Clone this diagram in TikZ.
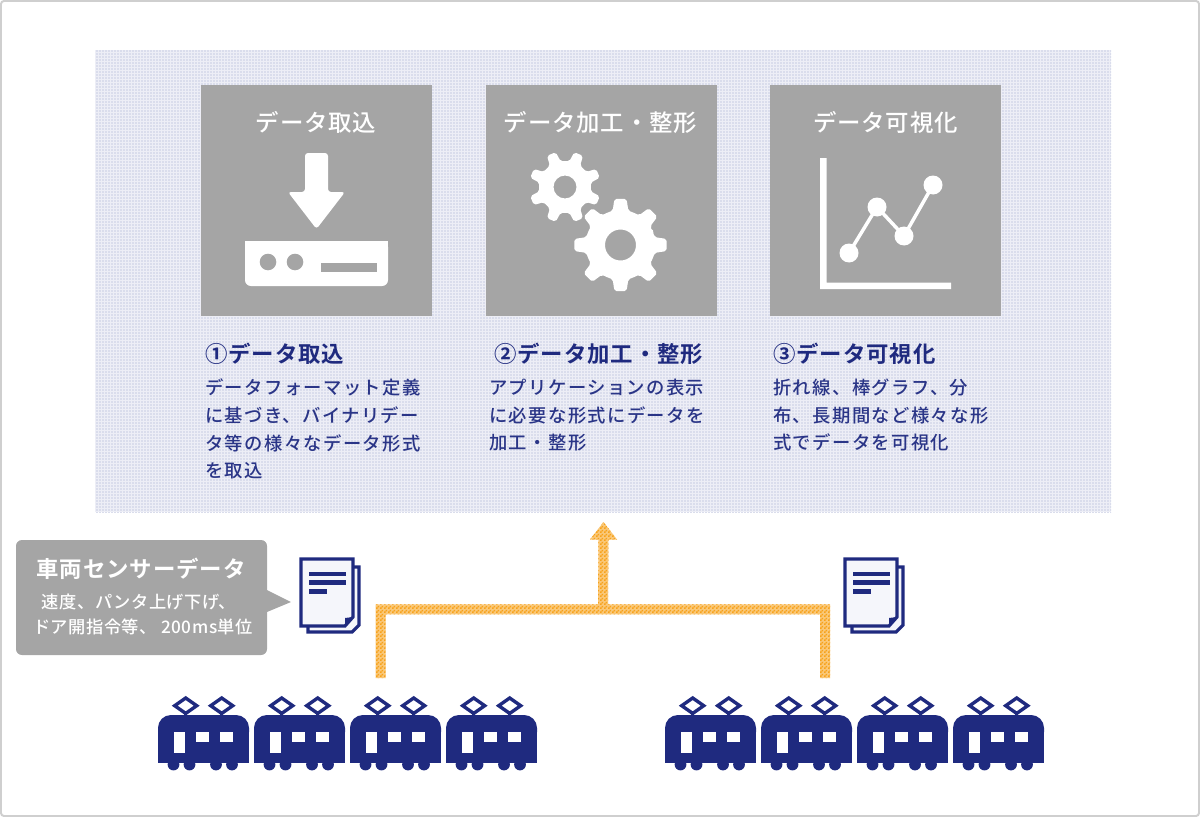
\documentclass[tikz,border=0pt]{standalone}
\usepackage{fontspec}
\setmainfont{Noto Sans CJK JP Medium}
\newfontfamily\bodyf[LetterSpace=7.5]{Noto Sans CJK JP Medium}
\newfontfamily\boxf[LetterSpace=3.5]{Noto Sans CJK JP Medium}
\newfontfamily\subf[LetterSpace=3]{Noto Sans CJK JP Medium}
\newfontfamily\headf[LetterSpace=4]{Noto Sans CJK JP Bold}
\usetikzlibrary{patterns,calc}
\definecolor{navy}{HTML}{1F2A7F}
\definecolor{bodyblue}{HTML}{2A3587}
\definecolor{boxgrey}{HTML}{A5A5A5}
\definecolor{framegrey}{HTML}{CFCFCF}
\definecolor{panelbase}{HTML}{EDEEF6}
\definecolor{paneldot}{HTML}{DADDEC}
\definecolor{pagefill}{HTML}{F5F6FB}
\definecolor{flow}{HTML}{F7A21B}
\definecolor{flowlight}{HTML}{FAC879}
\pgfdeclarepatternformonly{paneldots}{\pgfqpoint{0bp}{0bp}}{\pgfqpoint{2bp}{2bp}}{\pgfqpoint{3bp}{3bp}}{%
  \pgfpathrectangle{\pgfqpoint{0bp}{0bp}}{\pgfqpoint{2bp}{2bp}}\pgfusepath{fill}}
\pgfdeclarepatternformonly{checker}{\pgfqpoint{0bp}{0bp}}{\pgfqpoint{4bp}{4bp}}{\pgfqpoint{4bp}{4bp}}{%
  \pgfpathrectangle{\pgfqpoint{0bp}{0bp}}{\pgfqpoint{2bp}{2bp}}%
  \pgfpathrectangle{\pgfqpoint{2bp}{2bp}}{\pgfqpoint{2bp}{2bp}}\pgfusepath{fill}}
\tikzset{
  x=1bp,y=-1bp,
  greybox/.style={fill=boxgrey,draw=none,minimum width=231bp,minimum height=231bp,inner sep=0},
  boxtitle/.style={text=white,inner sep=0,font=\boxf\fontsize{23.5}{27}\selectfont},
  heading/.style={text=navy,inner sep=0,anchor=west,font=\headf\fontsize{22.5}{26}\selectfont},
  bodytext/.style={text=bodyblue,inner sep=0,anchor=north west,align=left,font=\bodyf\fontsize{18.4}{27.7}\selectfont},
  subtext/.style={text=white,inner sep=0,font=\subf\fontsize{17.3}{26}\selectfont},
  trainicon/.pic={
    \fill[navy,rounded corners=13] (0,30) -- (0,0) -- (91,0) -- (91,30) -- cycle;
    \fill[navy] (0,13) rectangle (91,48);
    \foreach \wx in {15.5,31.5,58,74}{\fill[navy] (\wx,49.5) circle[radius=5.9];}
    \fill[white] (16,16.7) rectangle (27,38);
    \fill[white] (38,16.7) rectangle (51.3,27.3);
    \fill[white] (62,16.7) rectangle (75.3,27.3);
    \foreach \px in {27.7,63.7}{
      \draw[navy,line width=3.4,line join=miter] (\px-11,-9.3) -- (\px,-17) -- (\px+11,-9.3) -- (\px,-1.6) -- cycle;
      \draw[navy,line width=2.5] (\px,-2) -- (\px,1);
    }
  },
  docicon/.pic={
    \draw[navy,line width=3.2,fill=pagefill,line join=miter] (7,8) -- (58,8) -- (58,66) -- (51,73) -- (7,73) -- cycle;
    \draw[navy,line width=3.2,fill=pagefill,line join=miter] (0,0) -- (52,0) -- (52,58) -- (44,67) -- (0,67) -- cycle;
    \fill[navy] (8,12.5) rectangle (45,17);
    \fill[navy] (8,21) rectangle (45,25.5);
    \fill[navy] (8,30) rectangle (26,34.5);
    \fill[navy] (44,67) -- (44,59) -- (52,58) -- cycle;
  },
  gearicon/.pic={
    \fill[white,even odd rule,rounded corners=2]
      (\gearrot-22.5:\gearroot)
      \foreach \k in {0,...,7}{
        -- (\gearrot+45*\k-13:\gearroot)
        -- (\gearrot+45*\k-7.5:\gearout)
        -- (\gearrot+45*\k+7.5:\gearout)
        -- (\gearrot+45*\k+13:\gearroot)
        -- (\gearrot+45*\k+22.5:\gearroot)
      } -- cycle
      (0,0) circle[radius=\gearhole];
  }
}
\begin{document}
\begin{tikzpicture}[x=1bp,y=-1bp]
\useasboundingbox (0,0) rectangle (1200,817);
% frame
\draw[framegrey,line width=2,rounded corners=3] (1,1) rectangle (1199,816);
% panel
\fill[panelbase] (95,50) rectangle (1111,512);
\fill[pattern=paneldots,pattern color=paneldot] (95,50) rectangle (1111,512);
\fill[fill=paneldot!70!white] (452,422) rectangle (463,423);
% grey boxes
\node[greybox] (boxA) at (316.5,200.5) {};
\node[greybox] (boxB) at (601.5,200.5) {};
\node[greybox] (boxC) at (885.5,200.5) {};
\node[boxtitle] (titleA) at (316,122) {データ取込};
\node[boxtitle] (titleB) at (600.5,122) {データ加工・整形};
\node[boxtitle] (titleC) at (885.5,122) {データ可視化};
% download icon
\fill[white,rounded corners=3] (305,192) -- (305,153) -- (328,153) -- (328,192) -- (345,192) -- (316.5,229) -- (288,192) -- cycle;
\fill[white,rounded corners=6] (245,241) -- (245,286) -- (388,286) -- (388,241) -- cycle;
\fill[white] (245,241) rectangle (388,260);
\fill[boxgrey] (268,262) circle[radius=8.3] (295,262) circle[radius=8.3];
\fill[boxgrey] (321,263) rectangle (377,272);
% gears
\def\gearrot{22.5}\def\gearroot{26}\def\gearout{36}\def\gearhole{11.5}
\pic at (565,187) {gearicon};
\def\gearrot{0}\def\gearroot{35}\def\gearout{46.5}\def\gearhole{15.5}
\fill[boxgrey] (620.5,245) circle[radius=41];
\pic at (620.5,245) {gearicon};
% chart
\fill[white] (820,158) -- (826.5,158) -- (826.5,282.5) -- (951,282.5) -- (951,289) -- (820,289) -- cycle;
\draw[white,line width=3.5] (849,253) -- (877,207) -- (904,236) -- (933,185);
\fill[white] (849,253) circle[radius=9.5] (877,207) circle[radius=9.5] (904,236) circle[radius=9.5] (933,185) circle[radius=9.5];
% headings and texts
\node[heading] (headA) at (205,354) {①データ取込};
\node[heading] (headB) at (494,354) {②データ加工・整形};
\node[heading] (headC) at (773,354) {③データ可視化};
\node[bodytext] (bodyA) at (205,379) {データフォーマット定義\\に基づき、バイナリデー\\タ等の様々なデータ形式\\を取込};
\node[bodytext] (bodyB) at (489,379) {アプリケーションの表示\\に必要な形式にデータを\\加工・整形};
\node[bodytext] (bodyC) at (773,379) {折れ線、棒グラフ、分\\布、長期間など様々な形\\式でデータを可視化};
% callout
\fill[boxgrey,rounded corners=6] (16,540) rectangle (267,655);
\fill[boxgrey] (267,590) -- (291,602) -- (267,612) -- cycle;
\node[text=white,inner sep=0,font=\headf\fontsize{22.5}{26}\selectfont] (calloutT) at (141,569) {車両センサーデータ};
\node[subtext] (calloutA) at (139,602) {速度、パンタ上げ下げ、};
\node[subtext] (calloutB) at (143,627) {ドア開指令等、 200ms単位};
% documents
\pic at (301,559) {docicon};
\pic at (845,559) {docicon};
% flow
\coordinate (trainL) at (380.7,678);
\coordinate (trainR) at (825,678);
\coordinate (junction) at (603,609.3);
\coordinate (panelIn) at (603.5,522);
\def\flowpath{($(trainL)+(-5,0)$) |- ($(junction)+(-5,-5)$) -- ($(panelIn)+(-5,17.5)$) -- ($(panelIn)+(-13.5,17.5)$) -- (panelIn)
  -- ($(panelIn)+(13.5,17.5)$) -- ($(panelIn)+(5,17.5)$) -- ($(junction)+(5,-5)$) -| ($(trainR)+(5,0)$)
  -- ($(trainR)+(-5,0)$) |- ($(junction)+(0,5)$) -| ($(trainL)+(5,0)$) -- cycle}
\fill[flowlight] \flowpath;
\fill[pattern=checker,pattern color=flow] \flowpath;
% trains
\foreach \tx in {158,254,350,446,665,761,857,953}{
  \pic at (\tx,715) {trainicon};
}
\end{tikzpicture}
\end{document}
